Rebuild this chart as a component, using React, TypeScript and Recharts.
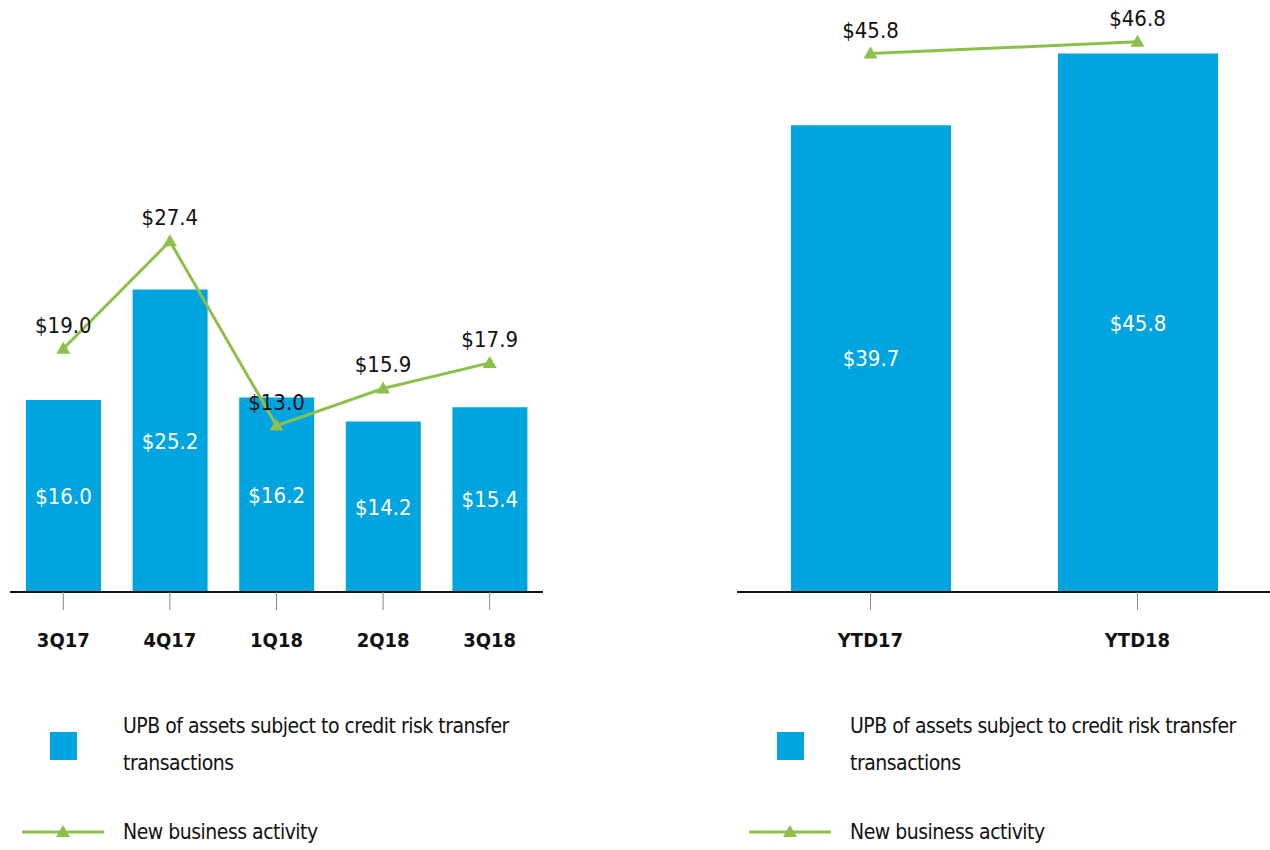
import React from "react";
import { Bar, ComposedChart, LabelList, Line, XAxis, YAxis } from "recharts";

const quarters = ["3Q17", "4Q17", "1Q18", "2Q18", "3Q18"];
const quarterUpb = [16.0, 25.2, 16.2, 14.2, 15.4];
const quarterNewBiz = [19.0, 27.4, 13.0, 15.9, 17.9];

const years = ["YTD17", "YTD18"];
const yearUpb = [39.7, 45.8];
const yearNewBiz = [45.8, 46.8];

const BLUE = "#00a5e0";
const GREEN = "#8cc04b";
const FONT = '"Liberation Sans Narrow", "DejaVu Sans Condensed", Roboto, sans-serif';

const quarterData = quarters.map((name, i) => ({ name, upb: quarterUpb[i], nb: quarterNewBiz[i] }));
const yearData = years.map((name, i) => ({ name, upb: yearUpb[i], nb: yearNewBiz[i] }));

const fmt = (v: any) => `$${Number(v).toFixed(1)}`;

const Triangle = (props: any) => {
  const { cx, cy, index } = props;
  if (cx == null || cy == null) return <g key={index} />;
  return <path key={index} d={`M${cx},${cy - 7} L${cx + 7},${cy + 5} L${cx - 7},${cy + 5} Z`} fill={GREEN} />;
};

const XTick: React.FC<any> = ({ x, y, payload }) => (
  <text x={x} y={y} dy={35} textAnchor="middle" fontSize={20} fontWeight="bold" fill="#111" fontFamily={FONT}>
    {payload.value}
  </text>
);

const Legend: React.FC<{ left: number }> = ({ left }) => (
  <div
    style={{
      position: "absolute",
      left,
      top: 700,
      width: 520,
      height: 150,
      fontFamily: FONT,
      fontSize: 21,
      letterSpacing: -0.5,
      color: "#111",
    }}
  >
    <div style={{ position: "absolute", left: 28, top: 32, width: 27, height: 28, background: BLUE }} />
    <div style={{ position: "absolute", left: 101, top: 8, lineHeight: "37px" }}>
      UPB of assets subject to credit risk transfer
      <br />
      transactions
    </div>
    <svg style={{ position: "absolute", left: 0, top: 122 }} width={90} height={20}>
      <line x1={0} y1={10} x2={82} y2={10} stroke={GREEN} strokeWidth={3} />
      <path d="M41,3 L48,15 L34,15 Z" fill={GREEN} />
    </svg>
    <div style={{ position: "absolute", left: 101, top: 114, lineHeight: "37px" }}>New business activity</div>
  </div>
);

interface PanelProps {
  data: any[];
  width: number;
  barSize: number;
  barMax: number;
  lineMax: number;
}

const Panel: React.FC<PanelProps> = ({ data, width, barSize, barMax, lineMax }) => (
  <ComposedChart width={width} height={680} data={data} margin={{ top: 16, right: 0, bottom: 0, left: 10 }}>
    <XAxis
      dataKey="name"
      xAxisId={0}
      height={88}
      axisLine={{ stroke: "#111", strokeWidth: 2 }}
      tickLine={{ stroke: "#888" }}
      tickSize={18}
      tick={<XTick />}
      interval={0}
    />
    <YAxis yAxisId="bar" hide domain={[0, barMax]} />
    <YAxis yAxisId="line" hide domain={[0, lineMax]} orientation="right" />
    <Bar yAxisId="bar" dataKey="upb" fill={BLUE} barSize={barSize} isAnimationActive={false}>
      <LabelList dataKey="upb" position="center" formatter={fmt} fill="#fff" fontSize={22} fontFamily={FONT} />
    </Bar>
    <Line
      yAxisId="line"
      dataKey="nb"
      stroke={GREEN}
      strokeWidth={3}
      dot={Triangle}
      activeDot={false}
      isAnimationActive={false}
    >
      <LabelList dataKey="nb" position="top" offset={16} formatter={fmt} fill="#111" fontSize={22} fontFamily={FONT} />
    </Line>
  </ComposedChart>
);

export default function App() {
  return (
    <div style={{ position: "absolute", left: 0, top: 0, width: 1270, height: 850, overflow: "hidden", background: "#fff" }}>
      <div style={{ position: "absolute", left: 0, top: 0 }}>
        <Panel data={quarterData} width={543} barSize={75} barMax={48} lineMax={45} />
      </div>
      <div style={{ position: "absolute", left: 727, top: 0 }}>
        <Panel data={yearData} width={544} barSize={160} barMax={49} lineMax={49} />
      </div>
      <Legend left={22} />
      <Legend left={749} />
    </div>
  );
}
